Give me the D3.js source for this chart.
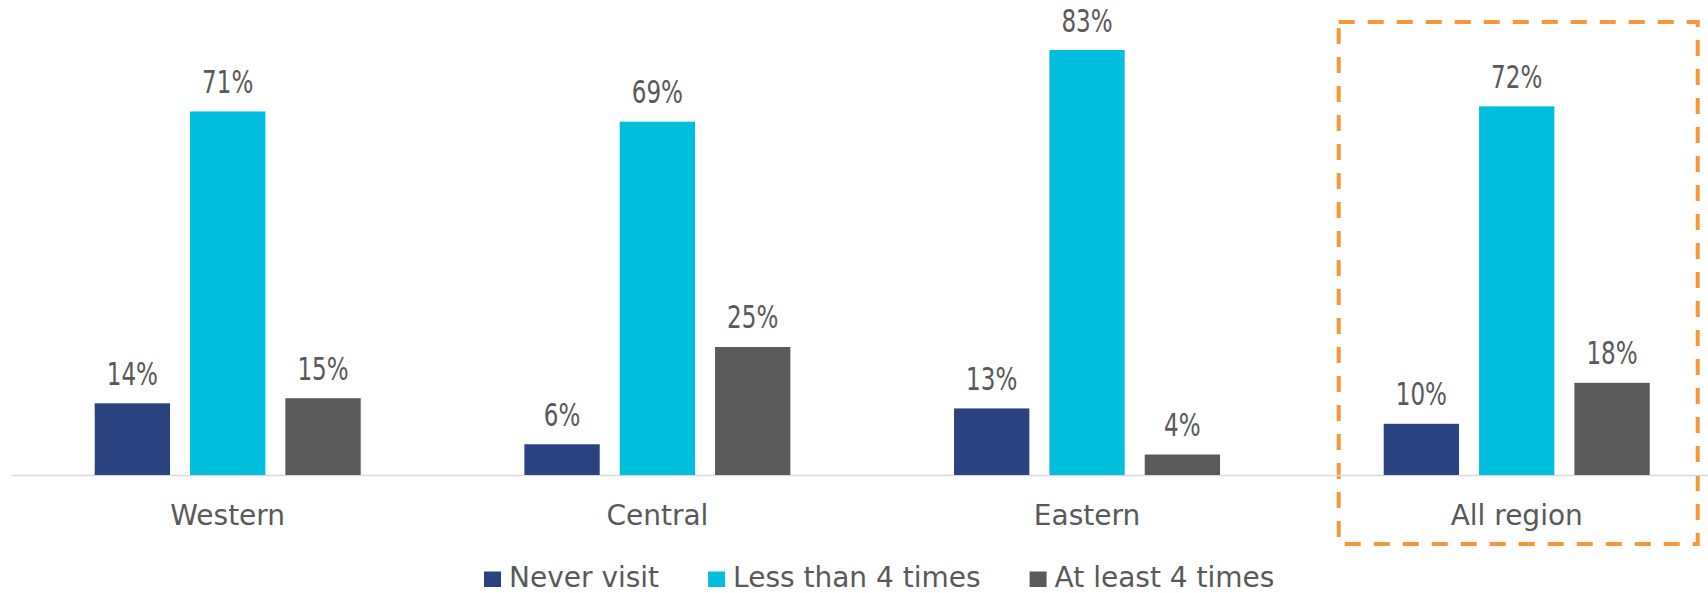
<!DOCTYPE html>
<html>
<head>
<meta charset="utf-8">
<script src="https://cdn.jsdelivr.net/npm/d3@7"></script>
<style>
  html, body { margin: 0; padding: 0; background: #ffffff; }
  svg { display: block; }
  .cat, .legend-label { font-family: "DejaVu Sans", sans-serif; fill: #595959; }
  .value { font-family: "DejaVu Sans Condensed", "DejaVu Sans", sans-serif; font-stretch: condensed; fill: #595959; }
</style>
</head>
<body>
<svg id="chart" width="1708" height="593"></svg>
<script>
// Visit frequency by region (share of respondents, %)
const regions = ["Western", "Central", "Eastern", "All region"];
const seriesNames = ["Never visit", "Less than 4 times", "At least 4 times"];
const neverVisit = [14, 6, 13, 10];
const lessThan4 = [71, 69, 83, 72];
const atLeast4 = [15, 25, 4, 18];
const seriesColors = ["#2A4280", "#00BFDE", "#5A5A5A"];
const highlighted = "All region";

const seriesValues = [neverVisit, lessThan4, atLeast4];

const width = 1708, height = 593;
const svg = d3.select("#chart");

const baseY = 475;
const y = d3.scaleLinear().domain([0, 92.77]).range([baseY, 0]);

// Outer bands: one per region
const x0 = d3.scaleBand()
  .domain(regions)
  .range([12.87, 12.87 + 429.67 * regions.length])
  .paddingInner(0)
  .paddingOuter(0);

// Inner bands: one per series, centred on the region band
const groupWidth = 266;
const x1 = d3.scaleBand()
  .domain(seriesNames)
  .range([-groupWidth / 2, groupWidth / 2])
  .paddingInner(20 / 95.3)
  .paddingOuter(0);

const centre = r => x0(r) + x0.bandwidth() / 2;

// Highlight box around the all-region group
const boxHalf = 180;
svg.append("rect")
  .attr("x", centre(highlighted) - boxHalf + 2)
  .attr("y", 22)
  .attr("width", boxHalf * 2 - 1)
  .attr("height", 522)
  .attr("fill", "none")
  .attr("stroke", "#F7963A")
  .attr("stroke-width", 4)
  .attr("stroke-dasharray", "16 13");

// Baseline axis
const xAxis = d3.axisBottom(x0).tickSize(0).tickPadding(0).tickFormat("");
const axisG = svg.append("g")
  .attr("transform", `translate(0,${baseY + 0.5})`)
  .call(xAxis);
axisG.select(".domain").remove();
axisG.append("line")
  .attr("x1", 12).attr("x2", width)
  .attr("stroke", "#D9D9D9").attr("stroke-width", 1.5);

// Bars
const groups = svg.append("g").selectAll("g")
  .data(regions)
  .join("g")
  .attr("transform", r => `translate(${centre(r)},0)`);

const rows = (r, i) => seriesNames.map((s, k) => ({ series: s, k, value: seriesValues[k][i] }));

groups.selectAll("rect")
  .data(rows)
  .join("rect")
  .attr("x", d => x1(d.series))
  .attr("width", x1.bandwidth())
  .attr("y", d => y(d.value))
  .attr("height", d => baseY - y(d.value))
  .attr("fill", d => seriesColors[d.k]);

// Value labels: tall, narrow numerals
groups.selectAll("text.value")
  .data(rows)
  .join("text")
  .attr("class", "value")
  .attr("transform", d => `translate(${x1(d.series) + x1.bandwidth() / 2},${y(d.value) - 18.5}) scale(0.8,1)`)
  .attr("text-anchor", "middle")
  .attr("font-size", 32)
  .text(d => d.value + "%");

// Category labels
svg.append("g").selectAll("text")
  .data(regions)
  .join("text")
  .attr("class", "cat")
  .attr("x", r => centre(r))
  .attr("y", 525)
  .attr("text-anchor", "middle")
  .attr("font-size", 28)
  .text(r => r);

// Legend
const legend = svg.append("g");
let lx = 484;
seriesNames.forEach((s, k) => {
  const item = legend.append("g").attr("transform", `translate(${lx},0)`);
  item.append("rect")
    .attr("x", 0).attr("y", 571.5)
    .attr("width", 17).attr("height", 15.5)
    .attr("fill", seriesColors[k]);
  const t = item.append("text")
    .attr("class", "legend-label")
    .attr("x", 25).attr("y", 587)
    .attr("font-size", 28)
    .text(s);
  lx += 25 + t.node().getComputedTextLength() + 49;
});
</script>
</body>
</html>
